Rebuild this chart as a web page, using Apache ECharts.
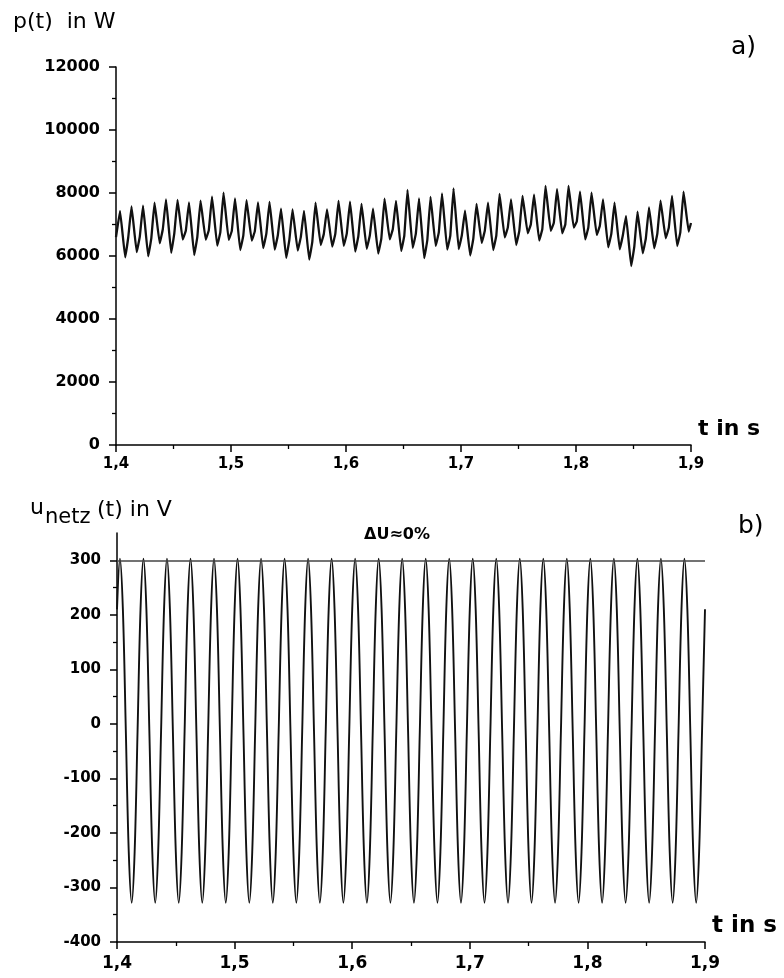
<!DOCTYPE html>
<html><head><meta charset="utf-8">
<script src="https://cdn.jsdelivr.net/npm/echarts@6/dist/echarts.min.js"></script>
<style>html,body{margin:0;padding:0;background:#fff}#c{width:784px;height:978px}</style>
</head><body><div id="c"></div>
<script>
// ---- tick labels ----
const xTickLabels = ['1,4', '1,5', '1,6', '1,7', '1,8', '1,9'];
const pTickLabels = ['0', '2000', '4000', '6000', '8000', '10000', '12000'];
const uTickLabels = ['-400', '-300', '-200', '-100', '0', '100', '200', '300'];
const uTickValues = [-400, -300, -200, -100, 0, 100, 200, 300];

// ---- panel a) p(t) in W : per 100 Hz ripple cycle ----
const pStart = 6600;
const pPeak = [7430, 7575, 7595, 7690, 7800, 7780, 7705, 7757, 7884, 8011,
               7832, 7770, 7705, 7720, 7505, 7483, 7435, 7694, 7480, 7752,
               7726, 7652, 7505, 7822, 7752, 8096, 7832, 7874, 7990, 8149,
               7440, 7652, 7694, 7969, 7800, 7906, 7948, 8223, 8122, 8228,
               8043, 8011, 7800, 7694, 7271, 7408, 7546, 7757, 7906, 8043];
const pTrough = [5960, 6120, 5990, 6400, 6100, 6520, 6030, 6520, 6330, 6510,
                 6190, 6487, 6250, 6200, 5940, 6170, 5885, 6350, 6300, 6320,
                 6140, 6230, 6075, 6530, 6160, 6260, 5930, 6320, 6200, 6220,
                 6015, 6415, 6191, 6590, 6350, 6720, 6487, 6800, 6720, 6900,
                 6530, 6668, 6276, 6212, 5683, 6086, 6244, 6562, 6318, 6773];
const pShoulder = [6610, 6620, 6560, 6850, 6720, 6800, 6600, 6820, 6750, 6800,
                   6650, 6780, 6700, 6650, 6500, 6600, 6450, 6700, 6700, 6720,
                   6620, 6650, 6550, 6850, 6650, 6700, 6500, 6750, 6650, 6650,
                   6550, 6800, 6650, 6900, 6800, 7000, 6850, 7050, 7000, 7100,
                   6900, 6950, 6700, 6650, 6300, 6550, 6700, 6900, 6750];
const pEnd = 7050;

// ---- panel b) u_netz(t) in V : samples every 2.5 ms from t = 1,4 s ----
const uValues = [
  210, 303, 210, -12, -235, -328, -235, -12,
  210, 303, 210, -12, -235, -328, -235, -12,
  210, 303, 210, -12, -235, -328, -235, -12,
  210, 303, 210, -12, -235, -328, -235, -12,
  210, 303, 210, -12, -235, -328, -235, -12,
  210, 303, 210, -12, -235, -328, -235, -12,
  210, 303, 210, -12, -235, -328, -235, -12,
  210, 303, 210, -12, -235, -328, -235, -12,
  210, 303, 210, -12, -235, -328, -235, -12,
  210, 303, 210, -12, -235, -328, -235, -12,
  210, 303, 210, -12, -235, -328, -235, -12,
  210, 303, 210, -12, -235, -328, -235, -12,
  210, 303, 210, -12, -235, -328, -235, -12,
  210, 303, 210, -12, -235, -328, -235, -12,
  210, 303, 210, -12, -235, -328, -235, -12,
  210, 303, 210, -12, -235, -328, -235, -12,
  210, 303, 210, -12, -235, -328, -235, -12,
  210, 303, 210, -12, -235, -328, -235, -12,
  210, 303, 210, -12, -235, -328, -235, -12,
  210, 303, 210, -12, -235, -328, -235, -12,
  210, 303, 210, -12, -235, -328, -235, -12,
  210, 303, 210, -12, -235, -328, -235, -12,
  210, 303, 210, -12, -235, -328, -235, -12,
  210, 303, 210, -12, -235, -328, -235, -12,
  210, 303, 210, -12, -235, -328, -235, -12,
  210
];
const uRef = 300;

// ---- build series data ----
const pData = [[1.4, pStart]];
for (let k = 0; k < pPeak.length; k++) {
  const tp = 1.4035 + 0.01 * k;
  pData.push([tp, pPeak[k]]);
  pData.push([tp + 0.0045, pTrough[k]]);
  if (k < pShoulder.length) pData.push([tp + 0.0072, pShoulder[k]]);
}
pData.push([1.9, pEnd]);
const uData = uValues.map((v, i) => [1.4 + 0.0025 * i, v]);

const F = 'DejaVu Sans';
function xAxisCfg(gi, fs, margin) {
  return {
    gridIndex: gi, type: 'value', min: 1.4, max: 1.9, interval: 0.1,
    axisLine: { onZero: false, lineStyle: { color: '#000', width: 1.5 } },
    axisTick: { length: 7, lineStyle: { color: '#000', width: 1.5 } },
    minorTick: { show: true, splitNumber: 2, length: 4, lineStyle: { color: '#000', width: 1.3 } },
    splitLine: { show: false },
    axisLabel: { margin: margin, fontFamily: F, fontWeight: 'bold', fontSize: fs, color: '#000',
      formatter: v => xTickLabels[Math.round((v - 1.4) / 0.1)] || '' }
  };
}
const chart = echarts.init(document.getElementById('c'), null, { renderer: 'canvas' });
chart.setOption({
  animation: false,
  backgroundColor: '#fff',
  grid: [
    { left: 116, top: 67, width: 575, height: 378 },
    { left: 117, top: 533, width: 588, height: 409 }
  ],
  xAxis: [xAxisCfg(0, 15, 12), xAxisCfg(1, 17, 13)],
  yAxis: [
    { gridIndex: 0, type: 'value', min: 0, max: 12000, interval: 2000,
      axisLine: { show: true, onZero: false, lineStyle: { color: '#000', width: 1.5 } },
      axisTick: { show: true, length: 7, lineStyle: { color: '#000', width: 1.5 } },
      minorTick: { show: true, splitNumber: 2, length: 4, lineStyle: { color: '#000', width: 1.3 } },
      splitLine: { show: false },
      axisLabel: { margin: 16, fontFamily: F, fontWeight: 'bold', fontSize: 16, color: '#000',
        formatter: v => pTickLabels[Math.round(v / 2000)] || '' } },
    { gridIndex: 1, type: 'value', min: -400, max: 350, interval: 100,
      axisLine: { show: true, onZero: false, lineStyle: { color: '#000', width: 1.5 } },
      axisTick: { show: true, length: 7, customValues: uTickValues, lineStyle: { color: '#000', width: 1.5 } },
      minorTick: { show: true, splitNumber: 2, length: 4, lineStyle: { color: '#000', width: 1.3 } },
      splitLine: { show: false },
      axisLabel: { margin: 16, showMaxLabel: false, fontFamily: F, fontWeight: 'bold', fontSize: 15, color: '#000',
        formatter: v => (v > 300 ? '' : (uTickLabels[Math.round((v + 400) / 100)] || '')) } }
  ],
  series: [
    { type: 'line', xAxisIndex: 0, yAxisIndex: 0, data: pData, showSymbol: false, smooth: 0.08,
      lineStyle: { color: '#111', width: 2.3 } },
    { type: 'line', xAxisIndex: 1, yAxisIndex: 1, data: uData, showSymbol: false, smooth: 0.35,
      lineStyle: { color: '#111', width: 1.9 },
      markLine: { silent: true, symbol: 'none', label: { show: false },
        lineStyle: { color: '#444', width: 1.5, type: 'solid' },
        data: [{ yAxis: uRef }] } }
  ],
  graphic: [
    { type: 'text', style: { text: 'p(t)  in W', x: 13, y: 22, textVerticalAlign: 'middle', font: '22px "DejaVu Sans"', fill: '#000' } },
    { type: 'text', style: { text: 'a)', x: 731, y: 47, textVerticalAlign: 'middle', font: '25px "DejaVu Sans"', fill: '#000' } },
    { type: 'text', style: { text: 't in s', x: 698, y: 429, textVerticalAlign: 'middle', font: 'bold 22px "DejaVu Sans"', fill: '#000' } },
    { type: 'text', style: { text: 'u', x: 30, y: 508, textVerticalAlign: 'middle', font: '22px "DejaVu Sans"', fill: '#000' } },
    { type: 'text', style: { text: 'netz', x: 45, y: 518, textVerticalAlign: 'middle', font: '21px "DejaVu Sans"', fill: '#000' } },
    { type: 'text', style: { text: '(t) in V', x: 97, y: 510, textVerticalAlign: 'middle', font: '22px "DejaVu Sans"', fill: '#000' } },
    { type: 'text', style: { text: 'b)', x: 738, y: 526, textVerticalAlign: 'middle', font: '25px "DejaVu Sans"', fill: '#000' } },
    { type: 'text', style: { text: 'ΔU≈0%', x: 397, y: 535, textAlign: 'center', textVerticalAlign: 'middle', font: 'bold 16px "DejaVu Sans"', fill: '#000' } },
    { type: 'text', style: { text: 't in s', x: 712, y: 926, textVerticalAlign: 'middle', font: 'bold 23px "DejaVu Sans"', fill: '#000' } }
  ]
});
</script>
</body></html>
